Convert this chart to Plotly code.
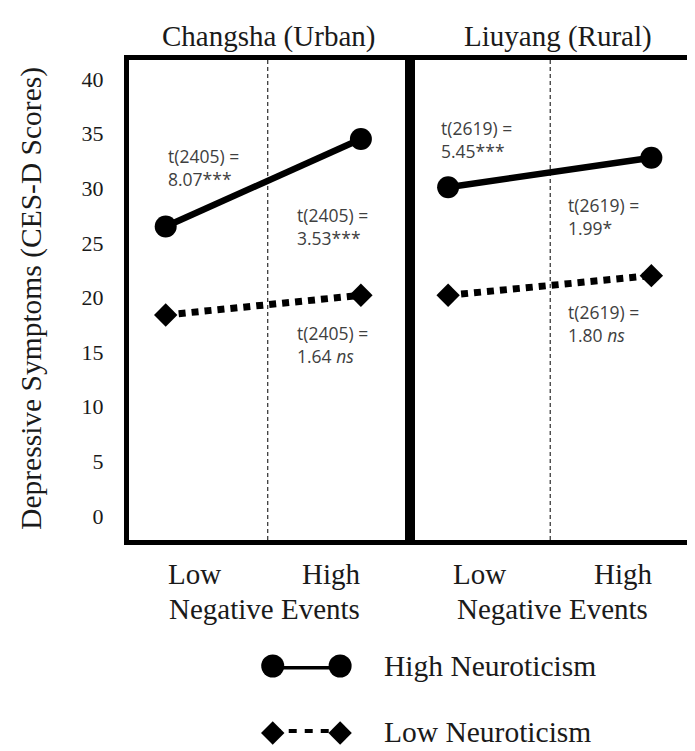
import plotly.graph_objects as go

# ---------------- data ----------------
x_levels = [0, 1]                      # Low, High negative events
x_tick_labels = ["Low", "High"]
x_axis_label = "Negative Events"
panel_titles = ["Changsha (Urban)", "Liuyang (Rural)"]
high_neuro = [[26.5, 34.5], [30.1, 32.8]]   # High Neuroticism means
low_neuro = [[18.4, 20.2], [20.2, 22.0]]    # Low Neuroticism means
y_ticks = [0, 5, 10, 15, 20, 25, 30, 35, 40]
y_title = "Depressive Symptoms (CES-D Scores)"
series_names = ["High Neuroticism", "Low Neuroticism"]
stats_text = [
    ["t(2405) =<br>8.07***", "t(2405) =<br>3.53***", "t(2405) =<br>1.64 <i>ns</i>"],
    ["t(2619) =<br>5.45***", "t(2619) =<br>1.99*", "t(2619) =<br>1.80 <i>ns</i>"],
]
stats_pos = [
    [(0.0, 31.9), (0.66, 26.5), (0.66, 15.7)],
    [(-0.045, 34.5), (0.58, 27.4), (0.58, 17.6)],
]

# ---------------- layout constants ----------------
W, H = 695, 751
ML, MR, MT, MB = 121, 6, 52, 10
PW, PH = W - ML - MR, H - MT - MB


def px_x(px):
    return (px - ML) / PW


def px_y(py):
    return (H - MB - py) / PH


split = px_x(404)
y_bottom = px_y(532)
x_ranges = [[-0.188, 1.249], [-0.190, 1.200]]
y_range = [-2.2, 41.74]

SERIF = "Liberation Serif, Times New Roman, serif"
SANS = "Open Sans, Noto Sans, sans-serif"

fig = go.Figure()

for i in range(2):
    xa = "x" if i == 0 else "x2"
    ya = "y" if i == 0 else "y2"
    fig.add_trace(go.Scatter(
        x=x_levels, y=high_neuro[i], mode="lines+markers",
        line=dict(color="black", width=6.5),
        marker=dict(symbol="circle", size=22, color="black"),
        xaxis=xa, yaxis=ya, showlegend=False, cliponaxis=False))
    fig.add_trace(go.Scatter(
        x=x_levels, y=low_neuro[i], mode="lines+markers",
        line=dict(color="black", width=7, dash="7px,6px"),
        marker=dict(symbol="diamond", size=18, color="black"),
        xaxis=xa, yaxis=ya, showlegend=False, cliponaxis=False))

# legend glyphs
fig.add_trace(go.Scatter(
    x=[0, 1], y=[1, 1], mode="lines+markers",
    line=dict(color="black", width=7),
    marker=dict(symbol="circle", size=23, color="black"),
    xaxis="x3", yaxis="y3", showlegend=False, cliponaxis=False))
fig.add_trace(go.Scatter(
    x=[0, 1], y=[0, 0], mode="lines+markers",
    line=dict(color="black", width=8, dash="8px,8px"),
    marker=dict(symbol="diamond", size=18, color="black"),
    xaxis="x3", yaxis="y3", showlegend=False, cliponaxis=False))

axis_common = dict(showgrid=False, zeroline=False, showline=True, mirror=True,
                   linecolor="black", linewidth=5)

fig.update_layout(
    width=W, height=H,
    margin=dict(l=ML, r=MR, t=MT, b=MB),
    paper_bgcolor="white", plot_bgcolor="white",
    xaxis=dict(domain=[0, split], range=x_ranges[0], showticklabels=False,
               ticks="", anchor="y", **axis_common),
    xaxis2=dict(domain=[split, 1], range=x_ranges[1], showticklabels=False,
                ticks="", anchor="y2", **axis_common),
    yaxis=dict(domain=[y_bottom, 1], range=y_range, tickvals=y_ticks,
               ticks="outside", ticklen=16, tickcolor="rgba(0,0,0,0)",
               tickfont=dict(family=SERIF, size=22, color="#1a1a1a"),
               anchor="x", **axis_common),
    yaxis2=dict(domain=[y_bottom, 1], range=y_range, showticklabels=False,
                ticks="", anchor="x2", **axis_common),
    xaxis3=dict(domain=[px_x(266), px_x(334)], range=[0, 1], visible=False,
                anchor="y3"),
    yaxis3=dict(domain=[px_y(725), px_y(658)], range=[0, 1], visible=False,
                anchor="x3"),
)

shapes = []
for i, xd in enumerate([0.4947, 0.498]):
    shapes.append(dict(type="line", xref="x domain" if i == 0 else "x2 domain",
                       yref="y domain" if i == 0 else "y2 domain",
                       x0=xd, x1=xd, y0=0, y1=1,
                       line=dict(color="black", width=1, dash="4px,3px")))
fig.update_layout(shapes=shapes)

ann = []
# panel titles
for title, cx in zip(panel_titles, [262, 554]):
    ann.append(dict(text=title, xref="paper", yref="paper", x=px_x(cx), y=px_y(29),
                    showarrow=False, xanchor="center", yanchor="middle",
                    font=dict(family=SERIF, size=29, color="#1a1a1a")))
# x tick labels and axis labels
for lo_c, hi_c, mid_c in [(187, 325, 258), (475, 620, 548)]:
    for lab, cx in zip(x_tick_labels, [lo_c, hi_c]):
        ann.append(dict(text=lab, xref="paper", yref="paper", x=px_x(cx), y=px_y(566),
                        showarrow=False, xanchor="center", yanchor="middle",
                        font=dict(family=SERIF, size=29, color="#1a1a1a")))
    ann.append(dict(text=x_axis_label, xref="paper", yref="paper", x=px_x(mid_c),
                    y=px_y(601), showarrow=False, xanchor="center", yanchor="middle",
                    font=dict(family=SERIF, size=29, color="#1a1a1a")))
# y title
ann.append(dict(text=y_title, xref="paper", yref="paper", x=px_x(22), y=px_y(290),
                showarrow=False, textangle=-90, xanchor="center", yanchor="middle",
                font=dict(family=SERIF, size=29.5, color="#1a1a1a")))
# stats
for i in range(2):
    xa = "x" if i == 0 else "x2"
    ya = "y" if i == 0 else "y2"
    for txt, (sx, sy) in zip(stats_text[i], stats_pos[i]):
        ann.append(dict(text=txt, xref=xa, yref=ya, x=sx, y=sy, showarrow=False,
                        xanchor="left", yanchor="middle", align="left",
                        font=dict(family=SANS, size=17.5, color="#404040")))
# legend labels
for name, cy in zip(series_names, [658, 724]):
    ann.append(dict(text=name, xref="paper", yref="paper", x=px_x(376), y=px_y(cy),
                    showarrow=False, xanchor="left", yanchor="middle",
                    font=dict(family=SERIF, size=29.5, color="#1a1a1a")))
fig.update_layout(annotations=ann)

fig.write_html("out.html")
